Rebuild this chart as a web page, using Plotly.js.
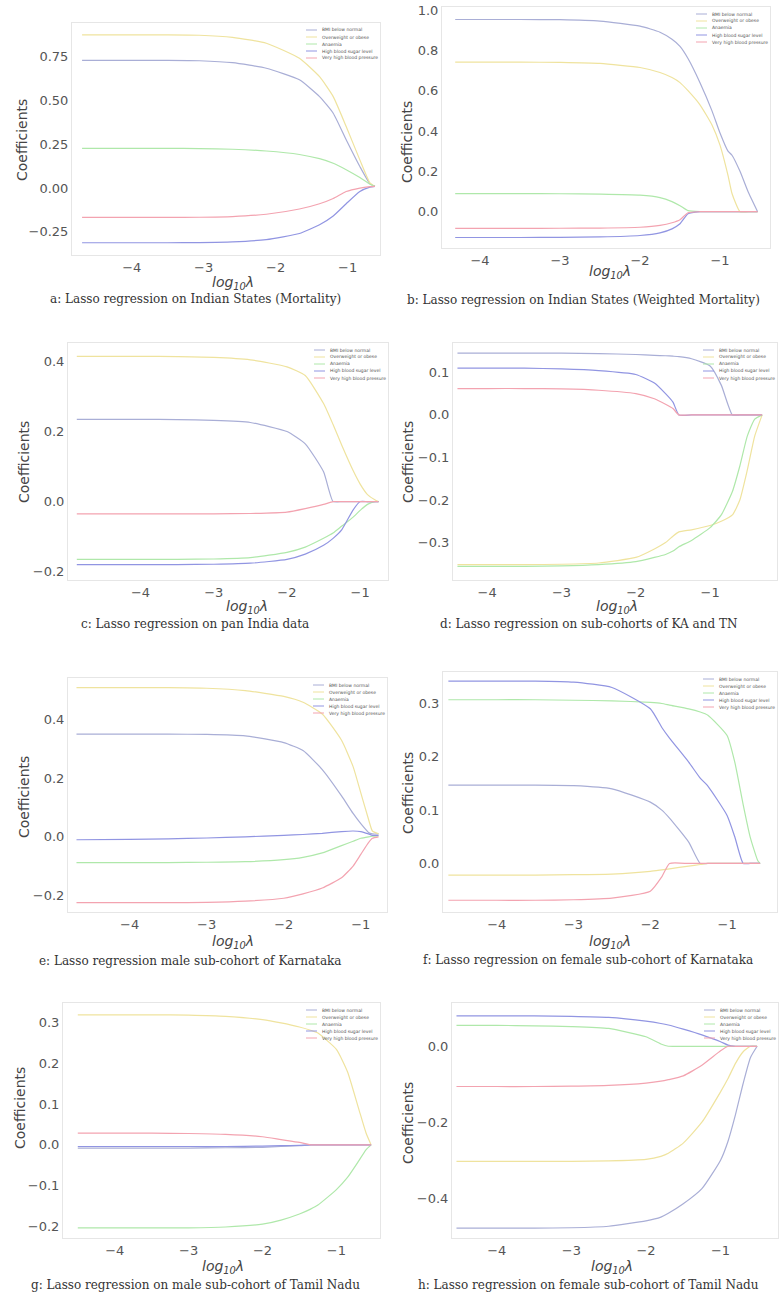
<!DOCTYPE html>
<html><head><meta charset="utf-8">
<script src="https://cdn.plot.ly/plotly-3.0.1.min.js"></script>
<style>html,body{margin:0;padding:0;background:#fff;}#chart{width:779px;height:1304px;}</style>
</head><body><div id="chart"></div>
<script>
// ---------- DATA ----------
const seriesNames = ["BMI below normal", "Overweight or obese", "Anaemia", "High blood sugar level", "Very high blood pressure"];
const captions = [
  "a: Lasso regression on Indian States (Mortality)",
  "b: Lasso regression on Indian States (Weighted Mortality)",
  "c: Lasso regression on pan India data",
  "d: Lasso regression on sub-cohorts of KA and TN",
  "e: Lasso regression male sub-cohort of Karnataka",
  "f: Lasso regression on female sub-cohort of Karnataka",
  "g: Lasso regression on male sub-cohort of Tamil Nadu",
  "h: Lasso regression on female sub-cohort of Tamil Nadu"
];
const xTickVals = [-4, -3, -2, -1];

// a
const a_lambda = [-4.69,-4,-3.5,-3.06,-2.6,-2.13,-1.67,-1.39,-1.2,-1.02,-0.83,-0.69,-0.62];
const a_s1 = [0.73,0.73,0.73,0.728,0.717,0.685,0.619,0.523,0.428,0.276,0.123,0.025,0.01];
const a_s2 = [0.876,0.876,0.876,0.874,0.862,0.828,0.742,0.637,0.523,0.352,0.161,0.03,0.01];
const a_s3 = [0.227,0.227,0.227,0.226,0.222,0.212,0.192,0.168,0.142,0.105,0.06,0.022,0.01];
const a_s4 = [-0.313,-0.313,-0.313,-0.312,-0.308,-0.295,-0.26,-0.21,-0.16,-0.09,-0.02,0.005,0.01];
const a_s5 = [-0.168,-0.168,-0.168,-0.167,-0.163,-0.15,-0.12,-0.09,-0.06,-0.02,0.0,0.008,0.01];
// b
const b_lambda = [-4.31,-4,-3.5,-3,-2.5,-2,-1.75,-1.6,-1.5,-1.4,-1.25,-1.1,-1,-0.9,-0.85,-0.75,-0.65,-0.53];
const b_s1 = [0.953,0.953,0.953,0.952,0.945,0.92,0.89,0.855,0.82,0.76,0.64,0.5,0.39,0.3,0.28,0.2,0.1,0.0];
const b_s2 = [0.742,0.742,0.742,0.74,0.735,0.715,0.69,0.665,0.64,0.6,0.53,0.43,0.33,0.18,0.09,0.0,0.0,0.0];
const b_s3 = [0.09,0.09,0.09,0.089,0.087,0.082,0.07,0.05,0.03,0.005,0,0,0,0,0,0,0,0];
const b_s4 = [-0.128,-0.128,-0.128,-0.127,-0.125,-0.118,-0.105,-0.085,-0.06,-0.01,0,0,0,0,0,0,0,0];
const b_s5 = [-0.083,-0.083,-0.083,-0.082,-0.081,-0.077,-0.068,-0.055,-0.04,-0.005,0,0,0,0,0,0,0,0];
// c
const c_lambda = [-4.87,-4,-3.5,-3,-2.5,-2,-1.75,-1.5,-1.37,-1.25,-1.1,-1,-0.9,-0.8,-0.75];
const c_s1 = [0.235,0.235,0.234,0.232,0.226,0.2,0.165,0.085,0.0,0,0,0,0,0,0];
const c_s2 = [0.415,0.415,0.414,0.412,0.405,0.385,0.36,0.28,0.22,0.16,0.09,0.05,0.02,0.005,0];
const c_s3 = [-0.165,-0.165,-0.165,-0.164,-0.16,-0.145,-0.13,-0.105,-0.09,-0.07,-0.045,-0.025,-0.008,0,0];
const c_s4 = [-0.18,-0.18,-0.18,-0.179,-0.176,-0.165,-0.15,-0.125,-0.105,-0.08,-0.025,0,0,0,0];
const c_s5 = [-0.035,-0.035,-0.035,-0.035,-0.034,-0.03,-0.02,-0.008,0,0,0,0,0,0,0];
// d
const d_lambda = [-4.4,-4,-3.5,-3,-2.5,-2,-1.75,-1.6,-1.5,-1.42,-1.25,-1,-0.85,-0.7,-0.6,-0.5,-0.4,-0.3];
const d_s1 = [0.145,0.145,0.145,0.145,0.144,0.142,0.14,0.139,0.138,0.137,0.132,0.115,0.07,0.0,0,0,0,0];
const d_s2 = [-0.352,-0.352,-0.352,-0.351,-0.348,-0.335,-0.315,-0.3,-0.285,-0.275,-0.27,-0.26,-0.25,-0.235,-0.2,-0.13,-0.05,0];
const d_s3 = [-0.356,-0.356,-0.356,-0.355,-0.352,-0.345,-0.335,-0.328,-0.32,-0.31,-0.295,-0.265,-0.235,-0.18,-0.12,-0.05,-0.01,0];
const d_s4 = [0.11,0.11,0.11,0.108,0.104,0.095,0.075,0.05,0.03,0.0,0,0,0,0,0,0,0,0];
const d_s5 = [0.062,0.062,0.062,0.061,0.058,0.05,0.038,0.025,0.015,0.0,0,0,0,0,0,0,0,0];
// e
const e_lambda = [-4.69,-4,-3.5,-3,-2.5,-2,-1.75,-1.5,-1.25,-1.1,-1,-0.9,-0.85,-0.77];
const e_s1 = [0.351,0.351,0.351,0.35,0.345,0.322,0.295,0.23,0.14,0.08,0.045,0.015,0.01,0.01];
const e_s2 = [0.51,0.51,0.51,0.508,0.5,0.48,0.46,0.42,0.33,0.24,0.15,0.06,0.02,0.01];
const e_s3 = [-0.088,-0.088,-0.088,-0.087,-0.085,-0.078,-0.07,-0.055,-0.03,-0.015,-0.005,0.0,0.002,0.003];
const e_s4 = [-0.01,-0.009,-0.007,-0.004,0.0,0.005,0.008,0.012,0.018,0.02,0.018,0.01,0.005,0.005];
const e_s5 = [-0.225,-0.225,-0.225,-0.224,-0.22,-0.21,-0.195,-0.175,-0.14,-0.1,-0.06,-0.02,-0.005,0.0];
// f
const f_lambda = [-4.63,-4,-3.5,-3,-2.5,-2,-1.85,-1.75,-1.5,-1.35,-1.25,-1,-0.9,-0.79,-0.7,-0.6,-0.57];
const f_s1 = [0.147,0.147,0.147,0.146,0.14,0.115,0.1,0.085,0.04,0.0,0,0,0,0,0,0,0];
const f_s2 = [-0.022,-0.022,-0.022,-0.021,-0.02,-0.015,-0.012,-0.01,-0.005,-0.002,0,0,0,0,0,0,0];
const f_s3 = [0.307,0.307,0.307,0.306,0.305,0.302,0.3,0.297,0.29,0.284,0.278,0.24,0.19,0.11,0.05,0.005,0];
const f_s4 = [0.342,0.342,0.342,0.34,0.33,0.29,0.255,0.235,0.19,0.16,0.145,0.09,0.05,0.0,0,0,0];
const f_s5 = [-0.069,-0.069,-0.069,-0.068,-0.065,-0.052,-0.025,0.0,0,0,0,0,0,0,0,0,0];
// g
const g_lambda = [-4.5,-4,-3.5,-3,-2.5,-2,-1.75,-1.5,-1.35,-1.25,-1,-0.85,-0.7,-0.6,-0.53];
const g_s1 = [-0.008,-0.008,-0.008,-0.008,-0.007,-0.006,-0.004,-0.002,0,0,0,0,0,0,0];
const g_s2 = [0.32,0.32,0.32,0.319,0.316,0.308,0.3,0.29,0.282,0.275,0.235,0.18,0.09,0.03,0.0];
const g_s3 = [-0.204,-0.204,-0.204,-0.204,-0.202,-0.195,-0.185,-0.17,-0.158,-0.148,-0.11,-0.08,-0.04,-0.012,0];
const g_s4 = [-0.004,-0.004,-0.004,-0.004,-0.004,-0.003,-0.002,-0.001,0,0,0,0,0,0,0];
const g_s5 = [0.029,0.029,0.029,0.028,0.026,0.02,0.013,0.006,0.0,0,0,0,0,0,0];
// h
const h_lambda = [-4.54,-4,-3.5,-3,-2.5,-2,-1.8,-1.7,-1.5,-1.25,-1,-0.9,-0.8,-0.7,-0.6,-0.51];
const h_s1 = [-0.479,-0.479,-0.479,-0.478,-0.474,-0.46,-0.45,-0.44,-0.415,-0.375,-0.3,-0.25,-0.18,-0.1,-0.03,0];
const h_s2 = [-0.303,-0.303,-0.303,-0.303,-0.302,-0.298,-0.29,-0.282,-0.255,-0.2,-0.12,-0.085,-0.045,-0.015,0,0];
const h_s3 = [0.055,0.055,0.054,0.052,0.047,0.025,0.006,0.0,0,0,0,0,0,0,0,0];
const h_s4 = [0.08,0.08,0.08,0.079,0.076,0.066,0.06,0.056,0.045,0.03,0.012,0.003,0,0,0,0];
const h_s5 = [-0.106,-0.106,-0.106,-0.105,-0.103,-0.097,-0.092,-0.088,-0.078,-0.05,-0.012,0,0,0,0,0];

// ---------- STYLE / LAYOUT ----------
const W = 779, H = 1304;
const colors = ["#a9aed6", "#efe39e", "#afe8aa", "#9195e2", "#f3a3b0"];
const panels = [
  {lam:a_lambda, ys:[a_s1,a_s2,a_s3,a_s4,a_s5], frame:[72,380,23,255], xr:[-4.83,-0.55], yr:[-0.383,0.944], dt:0.25, fmt:'.2f', ylab:[22,140], xlab:[233,283], cap:[195,299]},
  {lam:b_lambda, ys:[b_s1,b_s2,b_s3,b_s4,b_s5], frame:[442,770,7,248], xr:[-4.475,-0.375], yr:[-0.18,1.015], dt:0.2, fmt:'.1f', ylab:[407,142], xlab:[610,272], cap:[583,300]},
  {lam:c_lambda, ys:[c_s1,c_s2,c_s3,c_s4,c_s5], frame:[68,388,343,580], xr:[-4.99,-0.62], yr:[-0.224,0.453], dt:0.2, fmt:'.1f', ylab:[24,462], xlab:[247,607], cap:[195,624]},
  {lam:d_lambda, ys:[d_s1,d_s2,d_s3,d_s4,d_s5], frame:[453,777,343,580], xr:[-4.46,-0.1], yr:[-0.388,0.169], dt:0.1, fmt:'.1f', ylab:[408,462], xlab:[617,607], cap:[588,624]},
  {lam:e_lambda, ys:[e_s1,e_s2,e_s3,e_s4,e_s5], frame:[68,387,678,912], xr:[-4.8,-0.66], yr:[-0.257,0.543], dt:0.2, fmt:'.1f', ylab:[24,797], xlab:[233,942], cap:[190,961]},
  {lam:f_lambda, ys:[f_s1,f_s2,f_s3,f_s4,f_s5], frame:[443,777,672,912], xr:[-4.7,-0.35], yr:[-0.091,0.359], dt:0.1, fmt:'.1f', ylab:[408,793], xlab:[610,942], cap:[588,960]},
  {lam:g_lambda, ys:[g_s1,g_s2,g_s3,g_s4,g_s5], frame:[63,380,1003,1238], xr:[-4.7,-0.41], yr:[-0.229,0.349], dt:0.1, fmt:'.1f', ylab:[20,1108], xlab:[223,1267], cap:[195,1285]},
  {lam:h_lambda, ys:[h_s1,h_s2,h_s3,h_s4,h_s5], frame:[452,778,1003,1238], xr:[-4.6,-0.23], yr:[-0.505,0.114], dt:0.2, fmt:'.1f', ylab:[408,1123], xlab:[612,1267], cap:[588,1285]}
];

const px = x => x / W, py = y => 1 - y / H;
const traces = [], annotations = [], shapes = [];
const layout = {
  width: W, height: H, margin: {l:0, r:0, t:0, b:0},
  paper_bgcolor: '#fff', plot_bgcolor: '#fff', showlegend: false,
  font: {family: 'DejaVu Sans, sans-serif', color: '#444'}
};

panels.forEach((p, i) => {
  const n = i + 1, sfx = n === 1 ? '' : String(n);
  const [L, R, T, B] = p.frame;
  layout['xaxis' + sfx] = {
    domain: [px(L), px(R)], range: p.xr, anchor: 'y' + sfx,
    tickvals: xTickVals, tickformat: 'd', showgrid: false, zeroline: false,
    showline: true, mirror: true, linecolor: '#e6e6e6', linewidth: 1, ticks: '',
    tickfont: {size: 13, color: '#555'}, fixedrange: true
  };
  layout['yaxis' + sfx] = {
    domain: [py(B), py(T)], range: p.yr, anchor: 'x' + sfx,
    dtick: p.dt, tick0: 0, tickformat: p.fmt, showgrid: false, zeroline: false,
    showline: true, mirror: true, linecolor: '#e6e6e6', linewidth: 1, ticks: '',
    tickfont: {size: 13, color: '#555'}, fixedrange: true
  };
  p.ys.forEach((y, k) => {
    traces.push({
      type: 'scatter', mode: 'lines', x: p.lam, y: y, name: seriesNames[k],
      xaxis: 'x' + sfx, yaxis: 'y' + sfx,
      line: {color: colors[k], width: 1.2, shape: 'spline', smoothing: 0.5},
      hoverinfo: 'skip'
    });
  });
  // legend (drawn as small line samples + labels)
  for (let k = 0; k < 5; k++) {
    const yy = T + 7 + k * 7;
    shapes.push({type:'line', xref:'paper', yref:'paper', x0:px(R-74), x1:px(R-63), y0:py(yy), y1:py(yy),
      line:{color: colors[k], width: 1}});
    annotations.push({xref:'paper', yref:'paper', x:px(R-60), y:py(yy), xanchor:'left', yanchor:'middle',
      text: seriesNames[k], showarrow:false, font:{size:4.5, color:'#555'}});
  }
  // axis titles
  annotations.push({xref:'paper', yref:'paper', x:px(p.ylab[0]), y:py(p.ylab[1]), xanchor:'center', yanchor:'middle',
    text:'Coefficients', textangle:-90, showarrow:false, font:{size:14, color:'#444'}});
  annotations.push({xref:'paper', yref:'paper', x:px(p.xlab[0]), y:py(p.xlab[1]), xanchor:'center', yanchor:'middle',
    text:'log<sub>10</sub>λ', showarrow:false, font:{size:14, color:'#444', style:'italic'}});
  annotations.push({xref:'paper', yref:'paper', x:px(p.cap[0]), y:py(p.cap[1]), xanchor:'center', yanchor:'middle',
    text: captions[i], showarrow:false, font:{family:'DejaVu Serif, serif', size:12, color:'#333'}});
});
layout.annotations = annotations;
layout.shapes = shapes;

Plotly.newPlot('chart', traces, layout, {displayModeBar:false, staticPlot:true});
</script></body></html>
